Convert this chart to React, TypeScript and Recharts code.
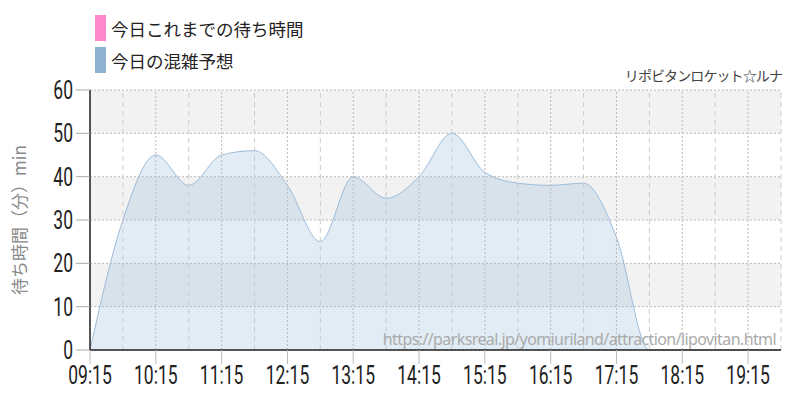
import { AreaChart, Area, Line, XAxis, YAxis, CartesianGrid, ReferenceLine } from 'recharts'

const times = [
  '09:15', '09:45', '10:15', '10:45', '11:15', '11:45', '12:15', '12:45', '13:15', '13:45', '14:15',
  '14:45', '15:15', '15:45', '16:15', '16:45', '17:15', '17:45', '18:15', '18:45', '19:15', '19:45',
]
const forecast = [0, 30, 45, 38, 45, 46, 38, 25, 40, 35, 40, 50, 41, 38.5, 38, 38.5, 26, 0, 0, 0, 0, 0]
// no measured waits yet today
const actual: (number | null)[] = times.map(() => null)
const yTicks = [0, 10, 20, 30, 40, 50, 60]

const legendItems = [
  { label: '今日これまでの待ち時間', color: '#ff88cc' },
  { label: '今日の混雑予想', color: '#8fb2d2' },
]
const attractionName = 'リポビタンロケット☆ルナ'
const sourceUrl = 'https://parksreal.jp/yomiuriland/attraction/lipovitan.html'
const yLabel = '待ち時間（分）min'

const data = times.map((t, i) => ({ time: t, forecast: forecast[i], actual: actual[i] }))

const numFont = 'Roboto, sans-serif'
const jpFont = '"Noto Sans CJK JP", sans-serif'

// condensed look: squeeze the digits horizontally
function TimeTick(props: any) {
  const { x, y, payload } = props
  if (payload.index % 2 !== 0) return null
  return (
    <g>
      <line x1={x} x2={x} y1={y - 8} y2={y + 6} stroke="#bbb" />
      <text transform={`translate(${x},${y + 26}) scale(0.7,1)`} textAnchor="middle" fontSize={25} fill="#222" fontFamily={numFont}>
        {payload.value}
      </text>
    </g>
  )
}

function ValueTick(props: any) {
  const { x, y, payload } = props
  return (
    <text transform={`translate(${x},${y + 9}) scale(0.7,1)`} textAnchor="end" fontSize={25} fill="#222" fontFamily={numFont}>
      {payload.value}
    </text>
  )
}

export default function App() {
  return (
    <div style={{ position: 'absolute', left: 0, top: 0, width: 800, height: 400, background: '#fff' }}>
      <div style={{ position: 'absolute', left: 95, top: 15, fontFamily: jpFont }}>
        {legendItems.map((d, i) => (
          <div key={i} style={{ display: 'flex', alignItems: 'center', height: 26, marginBottom: 6 }}>
            <div style={{ width: 11, height: 26, background: d.color, marginRight: 5 }} />
            <span style={{ fontSize: 17.5, color: '#222' }}>{d.label}</span>
          </div>
        ))}
      </div>
      <div style={{ position: 'absolute', right: 18, top: 65, fontSize: 14, letterSpacing: -0.9, color: '#444', fontFamily: jpFont }}>
        {attractionName}
      </div>
      <AreaChart width={800} height={400} data={data} margin={{ top: 90, right: 19, left: 30, bottom: 0 }}>
        <CartesianGrid vertical={false} stroke="#bbb" strokeDasharray="2 2" horizontalFill={['#f2f2f2', '#ffffff']} />
        {times.map((t, i) => (
          <ReferenceLine key={t} x={t} stroke={i % 2 === 0 ? '#bbb' : '#ccc'} strokeDasharray={i % 2 === 0 ? '2 2' : '5 4'} />
        ))}
        <XAxis dataKey="time" interval={0} height={50} tickLine={false} tick={<TimeTick />} axisLine={{ stroke: '#222', strokeWidth: 1.5 }} />
        <YAxis
          domain={[0, 60]}
          ticks={yTicks}
          width={60}
          tickSize={14}
          tickMargin={3}
          tickLine={{ stroke: '#aaa' }}
          axisLine={{ stroke: '#222', strokeWidth: 1.5 }}
          tick={<ValueTick />}
          label={{ value: yLabel, angle: -90, position: 'insideLeft', offset: -10, fill: '#888', fontSize: 17, fontFamily: jpFont, style: { textAnchor: 'middle' } }}
        />
        <Area type="monotone" dataKey="forecast" stroke="#9dbcd9" strokeWidth={1} fill="#94b9da" fillOpacity={0.28} isAnimationActive={false} />
        <Line type="monotone" dataKey="actual" stroke="#ff88cc" strokeWidth={2} dot={false} isAnimationActive={false} />
      </AreaChart>
      <div style={{ position: 'absolute', right: 24, top: 328, fontSize: 16, color: '#aaa', fontFamily: '"Noto Sans", sans-serif', letterSpacing: -0.6 }}>
        {sourceUrl}
      </div>
    </div>
  )
}
